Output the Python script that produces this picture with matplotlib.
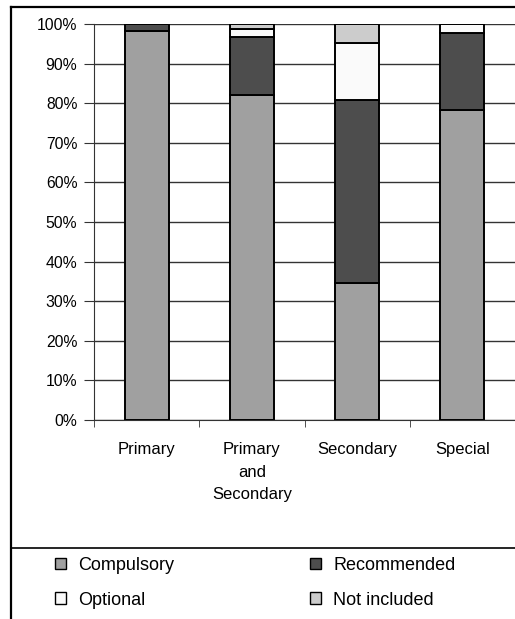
import matplotlib
matplotlib.use("Agg")
import matplotlib.pyplot as plt
from matplotlib.lines import Line2D
from matplotlib.patches import Patch
import numpy as np

plt.rcParams['font.family'] = ['Liberation Sans', 'DejaVu Sans']

categories = ["Primary", "Primary\nand\nSecondary", "Secondary", "Special"]
series_names = ["Compulsory", "Recommended", "Optional", "Not included"]
compulsory = [98.2, 82.1, 34.5, 78.3]
recommended = [1.8, 14.6, 46.3, 19.5]
optional = [0.0, 2.0, 14.5, 2.2]
not_included = [0.0, 1.3, 4.7, 0.0]
colors = ["#a0a0a0", "#4d4d4d", "#fafafa", "#cccccc"]
yticks = [0, 10, 20, 30, 40, 50, 60, 70, 80, 90, 100]

W, H = 515, 619
fig = plt.figure(figsize=(W / 100, H / 100), dpi=100)
ax = fig.add_axes([94 / W, 1 - 420 / H, (515 - 94) / W, (420 - 24) / H])

x = np.arange(len(categories))
bottom = np.zeros(len(categories))
for name, vals, c in zip(series_names, [compulsory, recommended, optional, not_included], colors):
    v = np.array(vals) / 100.0
    ax.bar(x, v, width=0.42, bottom=bottom, color=c, edgecolor="black", linewidth=1.4, zorder=3)
    bottom += v

ax.set_xlim(-0.5, len(categories) - 0.5)
ax.set_ylim(0, 1)
ax.set_yticks([t / 100 for t in yticks])
ax.set_yticklabels([f"{t}%" for t in yticks], fontsize=11.3)
ax.yaxis.grid(True, color="#333333", linewidth=1.0, zorder=0)
ax.set_axisbelow(True)
ax.set_xticks(x)
ax.set_xticklabels(categories, fontsize=12, linespacing=1.63)
ax.tick_params(axis="x", which="major", length=0, pad=16)
ax.set_xticks(np.arange(-0.5, len(categories) - 0.5, 1.0), minor=True)
ax.tick_params(axis="x", which="minor", length=5, direction="out", color="#333333")
ax.tick_params(axis="y", length=7, direction="out", color="#333333", pad=5)
for s in ["top", "right"]:
    ax.spines[s].set_visible(False)
ax.spines["left"].set_color("#333333")
ax.spines["bottom"].set_color("#333333")

# outer frame and legend separator
fig.add_artist(Line2D([11 / W, 11 / W], [1 - 7 / H, 0], transform=fig.transFigure, color="black", linewidth=1.6))
fig.add_artist(Line2D([11 / W, 1], [1 - 7 / H, 1 - 7 / H], transform=fig.transFigure, color="black", linewidth=1.6))
fig.add_artist(Line2D([11 / W, 1], [1 - 548 / H, 1 - 548 / H], transform=fig.transFigure, color="black", linewidth=1.2))

handles = [Patch(facecolor=c, edgecolor="black", linewidth=1.0) for c in colors]
# two columns, row-major: Compulsory, Recommended / Optional, Not included
order = [0, 2, 1, 3]
leg = fig.legend([handles[i] for i in order], [series_names[i] for i in order], ncol=2,
                 loc="upper left", bbox_to_anchor=(55 / W, 1 - 557 / H), frameon=False,
                 fontsize=13, handlelength=0.62, handleheight=0.62, handletextpad=0.65,
                 columnspacing=7.55, labelspacing=0.97, borderaxespad=0, borderpad=0)

fig.savefig("out.png", dpi=100)
